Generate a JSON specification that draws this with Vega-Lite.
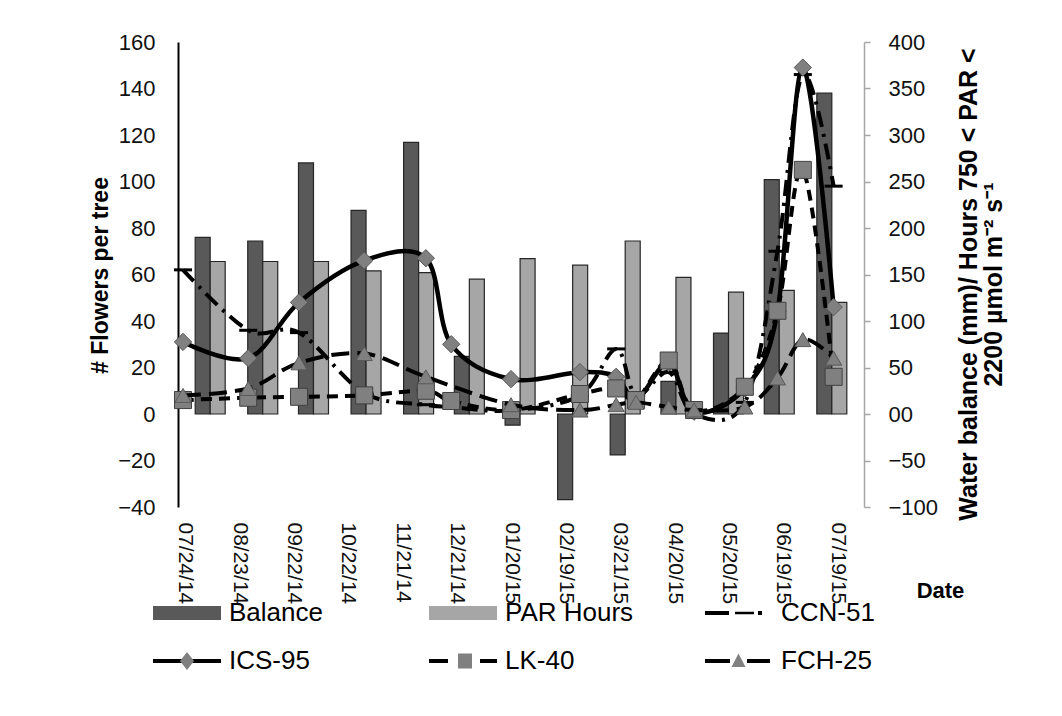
{
  "$schema": "https://vega.github.io/schema/vega-lite/v6.json",
  "width": 686,
  "height": 465,
  "autosize": {"type": "none"},
  "padding": {"left": 178, "top": 42, "right": 198, "bottom": 209},
  "background": "white",
  "config": {
    "font": "Liberation Sans",
    "view": {"stroke": null},
    "axis": {"grid": false, "labelFont": "Liberation Sans", "titleFont": "Liberation Sans"}
  },
  "datasets": {
    "bars": [
      {"date": "2014-08-07", "series": "Balance", "value": 190},
      {"date": "2014-09-05", "series": "Balance", "value": 186},
      {"date": "2014-10-03", "series": "Balance", "value": 270},
      {"date": "2014-11-01", "series": "Balance", "value": 219},
      {"date": "2014-11-30", "series": "Balance", "value": 292},
      {"date": "2014-12-28", "series": "Balance", "value": 62},
      {"date": "2015-01-25", "series": "Balance", "value": -12},
      {"date": "2015-02-23", "series": "Balance", "value": -92},
      {"date": "2015-03-24", "series": "Balance", "value": -44},
      {"date": "2015-04-21", "series": "Balance", "value": 35},
      {"date": "2015-05-20", "series": "Balance", "value": 87},
      {"date": "2015-06-17", "series": "Balance", "value": 252},
      {"date": "2015-07-16", "series": "Balance", "value": 345},
      {"date": "2014-08-07", "series": "PAR Hours", "value": 164},
      {"date": "2014-09-05", "series": "PAR Hours", "value": 164},
      {"date": "2014-10-03", "series": "PAR Hours", "value": 164},
      {"date": "2014-11-01", "series": "PAR Hours", "value": 154},
      {"date": "2014-11-30", "series": "PAR Hours", "value": 152},
      {"date": "2014-12-28", "series": "PAR Hours", "value": 145},
      {"date": "2015-01-25", "series": "PAR Hours", "value": 167},
      {"date": "2015-02-23", "series": "PAR Hours", "value": 160},
      {"date": "2015-03-24", "series": "PAR Hours", "value": 186},
      {"date": "2015-04-21", "series": "PAR Hours", "value": 147},
      {"date": "2015-05-20", "series": "PAR Hours", "value": 131},
      {"date": "2015-06-17", "series": "PAR Hours", "value": 133},
      {"date": "2015-07-16", "series": "PAR Hours", "value": 120}
    ],
    "flowers": [
      {"date": "2014-07-23", "series": "CCN-51", "value": 62},
      {"date": "2014-08-28", "series": "CCN-51", "value": 36},
      {"date": "2014-09-25", "series": "CCN-51", "value": 35},
      {"date": "2014-10-31", "series": "CCN-51", "value": 9},
      {"date": "2014-12-04", "series": "CCN-51", "value": 4},
      {"date": "2014-12-18", "series": "CCN-51", "value": 3},
      {"date": "2015-01-20", "series": "CCN-51", "value": 1.5},
      {"date": "2015-02-27", "series": "CCN-51", "value": 8},
      {"date": "2015-03-19", "series": "CCN-51", "value": 28},
      {"date": "2015-03-30", "series": "CCN-51", "value": 8},
      {"date": "2015-04-17", "series": "CCN-51", "value": 18},
      {"date": "2015-05-01", "series": "CCN-51", "value": 0},
      {"date": "2015-05-29", "series": "CCN-51", "value": 5},
      {"date": "2015-06-16", "series": "CCN-51", "value": 70},
      {"date": "2015-06-30", "series": "CCN-51", "value": 146},
      {"date": "2015-07-17", "series": "CCN-51", "value": 98},
      {"date": "2014-07-23", "series": "ICS-95", "value": 31},
      {"date": "2014-08-28", "series": "ICS-95", "value": 24},
      {"date": "2014-09-25", "series": "ICS-95", "value": 48},
      {"date": "2014-10-31", "series": "ICS-95", "value": 66},
      {"date": "2014-12-04", "series": "ICS-95", "value": 67},
      {"date": "2014-12-18", "series": "ICS-95", "value": 30},
      {"date": "2015-01-20", "series": "ICS-95", "value": 15},
      {"date": "2015-02-27", "series": "ICS-95", "value": 18},
      {"date": "2015-03-19", "series": "ICS-95", "value": 16},
      {"date": "2015-03-30", "series": "ICS-95", "value": 6},
      {"date": "2015-04-17", "series": "ICS-95", "value": 22},
      {"date": "2015-05-01", "series": "ICS-95", "value": 1},
      {"date": "2015-05-29", "series": "ICS-95", "value": 11},
      {"date": "2015-06-16", "series": "ICS-95", "value": 44},
      {"date": "2015-06-30", "series": "ICS-95", "value": 149},
      {"date": "2015-07-17", "series": "ICS-95", "value": 46},
      {"date": "2014-07-23", "series": "LK-40", "value": 6},
      {"date": "2014-08-28", "series": "LK-40", "value": 7},
      {"date": "2014-09-25", "series": "LK-40", "value": 7.4},
      {"date": "2014-10-31", "series": "LK-40", "value": 8},
      {"date": "2014-12-04", "series": "LK-40", "value": 10},
      {"date": "2014-12-18", "series": "LK-40", "value": 5.6},
      {"date": "2015-01-20", "series": "LK-40", "value": 1.7},
      {"date": "2015-02-27", "series": "LK-40", "value": 8.6},
      {"date": "2015-03-19", "series": "LK-40", "value": 11},
      {"date": "2015-03-30", "series": "LK-40", "value": 6},
      {"date": "2015-04-17", "series": "LK-40", "value": 23},
      {"date": "2015-05-01", "series": "LK-40", "value": 1.7},
      {"date": "2015-05-29", "series": "LK-40", "value": 11.7},
      {"date": "2015-06-16", "series": "LK-40", "value": 44.4},
      {"date": "2015-06-30", "series": "LK-40", "value": 105},
      {"date": "2015-07-17", "series": "LK-40", "value": 16},
      {"date": "2014-07-23", "series": "FCH-25", "value": 8},
      {"date": "2014-08-28", "series": "FCH-25", "value": 11},
      {"date": "2014-09-25", "series": "FCH-25", "value": 22},
      {"date": "2014-10-31", "series": "FCH-25", "value": 26},
      {"date": "2014-12-04", "series": "FCH-25", "value": 16},
      {"date": "2015-01-20", "series": "FCH-25", "value": 4},
      {"date": "2015-02-27", "series": "FCH-25", "value": 1.7},
      {"date": "2015-03-19", "series": "FCH-25", "value": 4},
      {"date": "2015-03-30", "series": "FCH-25", "value": 5},
      {"date": "2015-04-17", "series": "FCH-25", "value": 3},
      {"date": "2015-05-01", "series": "FCH-25", "value": 1.7},
      {"date": "2015-05-29", "series": "FCH-25", "value": 3},
      {"date": "2015-06-16", "series": "FCH-25", "value": 15.5},
      {"date": "2015-06-30", "series": "FCH-25", "value": 32},
      {"date": "2015-07-17", "series": "FCH-25", "value": 24}
    ],
    "legendA": [
      {"key": "Balance"}, {"key": "PAR Hours"}, {"key": "CCN-51"},
      {"key": "ICS-95"}, {"key": "LK-40"}, {"key": "FCH-25"}
    ],
    "legendB": [
      {"mkey": "Balance"}, {"mkey": "PAR Hours"}, {"mkey": "CCN-51"},
      {"mkey": "ICS-95"}, {"mkey": "LK-40"}, {"mkey": "FCH-25"}
    ]
  },
  "resolve": {"scale": {"y": "independent", "fill": "independent", "shape": "independent"}},
  "layer": [
    {
      "data": {"name": "bars"},
      "encoding": {
        "x": {
          "field": "date", "type": "temporal",
          "scale": {"type": "utc", "domain": [{"year": 2014, "month": 7, "date": 23, "utc": true}, {"year": 2015, "month": 7, "date": 31, "utc": true}]},
          "axis": {
            "orient": "bottom",
            "values": [
              {"year": 2014, "month": 7, "date": 24, "utc": true},
              {"year": 2014, "month": 8, "date": 23, "utc": true},
              {"year": 2014, "month": 9, "date": 22, "utc": true},
              {"year": 2014, "month": 10, "date": 22, "utc": true},
              {"year": 2014, "month": 11, "date": 21, "utc": true},
              {"year": 2014, "month": 12, "date": 21, "utc": true},
              {"year": 2015, "month": 1, "date": 20, "utc": true},
              {"year": 2015, "month": 2, "date": 19, "utc": true},
              {"year": 2015, "month": 3, "date": 21, "utc": true},
              {"year": 2015, "month": 4, "date": 20, "utc": true},
              {"year": 2015, "month": 5, "date": 20, "utc": true},
              {"year": 2015, "month": 6, "date": 19, "utc": true},
              {"year": 2015, "month": 7, "date": 19, "utc": true}
            ],
            "labelExpr": "utcFormat(datum.value, '%m/%d/%y')",
            "labelAngle": 90, "labelAlign": "left", "labelBaseline": "middle",
            "labelFontSize": 21, "labelColor": "#111", "labelPadding": 15,
            "labelOverlap": false, "labelFlush": false, "labelBound": false,
            "ticks": false, "domain": false,
            "title": "Date", "titleFontSize": 22, "titleFontWeight": "bold", "titleColor": "#000",
            "titleX": 762, "titleY": 83, "titleAlign": "center", "titleBaseline": "middle", "titleAngle": 0
          }
        },
        "y": {
          "field": "value", "type": "quantitative",
          "scale": {"domain": [-100, 400], "nice": false, "zero": false},
          "axis": {
            "orient": "right",
            "values": [-100, -50, 0, 50, 100, 150, 200, 250, 300, 350, 400],
            "labelExpr": "datum.value == 0 ? '00' : datum.label",
            "labelFontSize": 22, "labelColor": "#111", "labelAlign": "left", "labelPadding": 18,
            "domainColor": "#a6a6a6", "domainWidth": 1.5,
            "tickColor": "#a6a6a6", "tickWidth": 1.5, "tickSize": 6,
            "title": ["Water balance (mm)/ Hours 750 < PAR <", "2200 µmol m⁻² s⁻¹"],
            "titleFontSize": 25, "titleFontWeight": "bold", "titleColor": "#000",
            "titleAngle": 270, "titleX": 104, "titleY": 242, "titleAlign": "center", "titleBaseline": "middle", "titleLineHeight": 25
          }
        }
      },
      "layer": [
        {
          "transform": [{"filter": "datum.series === 'Balance'"}],
          "mark": {"type": "bar", "width": 15, "xOffset": -7.5, "fill": "#595959", "stroke": "#262626", "strokeWidth": 1.2}
        },
        {
          "transform": [{"filter": "datum.series === 'PAR Hours'"}],
          "mark": {"type": "bar", "width": 15, "xOffset": 7.5, "fill": "#a6a6a6", "stroke": "#262626", "strokeWidth": 1.2}
        }
      ]
    },
    {
      "data": {"name": "flowers"},
      "encoding": {
        "y": {
          "field": "value", "type": "quantitative",
          "scale": {"domain": [-40, 160], "nice": false, "zero": false},
          "axis": {
            "orient": "left",
            "values": [-40, -20, 0, 20, 40, 60, 80, 100, 120, 140, 160],
            "labelFontSize": 22, "labelColor": "#111", "labelPadding": 23,
            "ticks": false, "tickSize": 0,
            "domainColor": "#000", "domainWidth": 2,
            "title": "# Flowers per tree", "titleFontSize": 23, "titleFontWeight": "bold", "titleColor": "#000",
            "titleAngle": 270, "titleX": -78, "titleY": 233, "titleAlign": "center", "titleBaseline": "middle"
          }
        }
      },
      "layer": [
        {
          "transform": [{"filter": "datum.series === 'CCN-51' && datum.date === '2014-07-23'"}],
          "mark": {"type": "rule", "color": "#000", "strokeWidth": 2},
          "encoding": {"y": {"datum": 0}}
        },
        {
          "transform": [{"filter": "datum.series === 'CCN-51'"}],
          "mark": {"type": "line", "interpolate": "cardinal", "tension": 0, "color": "#000", "strokeWidth": 4, "strokeDash": [16, 7, 3, 7]},
          "encoding": {"x": {"field": "date", "type": "temporal"}}
        },
        {
          "transform": [{"filter": "datum.series === 'CCN-51'"}],
          "mark": {"type": "point", "shape": "stroke", "size": 324, "filled": false, "stroke": "#000", "strokeWidth": 3, "opacity": 1},
          "encoding": {"x": {"field": "date", "type": "temporal"}}
        },
        {
          "transform": [{"filter": "datum.series === 'ICS-95'"}],
          "mark": {"type": "line", "interpolate": "cardinal", "tension": 0, "color": "#000", "strokeWidth": 4.5},
          "encoding": {"x": {"field": "date", "type": "temporal"}}
        },
        {
          "transform": [{"filter": "datum.series === 'ICS-95'"}],
          "mark": {"type": "point", "shape": "diamond", "size": 300, "filled": true, "fill": "#808080", "stroke": "#595959", "strokeWidth": 1, "opacity": 1},
          "encoding": {"x": {"field": "date", "type": "temporal"}}
        },
        {
          "transform": [{"filter": "datum.series === 'LK-40'"}],
          "mark": {"type": "line", "interpolate": "cardinal", "tension": 0, "color": "#000", "strokeWidth": 4, "strokeDash": [11, 7]},
          "encoding": {"x": {"field": "date", "type": "temporal"}}
        },
        {
          "transform": [{"filter": "datum.series === 'LK-40'"}],
          "mark": {"type": "point", "shape": "square", "size": 290, "filled": true, "fill": "#808080", "stroke": "#404040", "strokeWidth": 1, "opacity": 1},
          "encoding": {"x": {"field": "date", "type": "temporal"}}
        },
        {
          "transform": [{"filter": "datum.series === 'FCH-25'"}],
          "mark": {"type": "line", "interpolate": "cardinal", "tension": 0, "color": "#000", "strokeWidth": 4, "strokeDash": [18, 8]},
          "encoding": {"x": {"field": "date", "type": "temporal"}}
        },
        {
          "transform": [{"filter": "datum.series === 'FCH-25'"}],
          "mark": {"type": "point", "shape": "triangle-up", "size": 260, "filled": true, "fill": "#808080", "stroke": "#595959", "strokeWidth": 1, "opacity": 1},
          "encoding": {"x": {"field": "date", "type": "temporal"}}
        }
      ]
    },
    {
      "data": {"name": "legendA"},
      "mark": {"type": "point", "filled": true, "opacity": 0, "stroke": "#000", "strokeWidth": 1},
      "encoding": {
        "fill": {
          "field": "key", "type": "nominal",
          "scale": {"domain": ["Balance", "PAR Hours", "CCN-51", "ICS-95", "LK-40", "FCH-25"], "range": ["#595959", "#a6a6a6", "#000", "#000", "#000", "#000"]},
          "legend": {"orient": "none", "direction": "horizontal", "legendX": -28, "legendY": 558, "columns": 3, "gridAlign": "all", "columnPadding": 68, "rowPadding": 22, "symbolSize": 400, "symbolStrokeWidth": 1, "symbolStrokeColor": "#000", "symbolOpacity": 1, "labelOffset": 53, "labelFontSize": 26, "labelFont": "Liberation Sans", "labelColor": "#000", "labelLimit": 400, "title": null, "padding": 0}
        },
        "shape": {
          "field": "key", "type": "nominal",
          "scale": {
            "domain": ["Balance", "PAR Hours", "CCN-51", "ICS-95", "LK-40", "FCH-25"],
            "range": [
              "M-1,-0.7H5.8V0.7H-1Z",
              "M-1,-0.7H5.8V0.7H-1Z",
              "M-1,-0.2H1.4V0.2H-1Z M2,-0.12H3.9V0.12H2Z M4.3,-0.2H4.7V0.2H4.3Z",
              "M-1,-0.2H5.8V0.2H-1Z",
              "M-1,-0.2H0.9V0.2H-1Z M4.1,-0.2H5.8V0.2H4.1Z",
              "M-1,-0.2H1.5V0.2H-1Z M3.2,-0.2H5.5V0.2H3.2Z"
            ]
          },
          "legend": {"orient": "none", "direction": "horizontal", "legendX": -28, "legendY": 558, "columns": 3, "gridAlign": "all", "columnPadding": 68, "rowPadding": 22, "symbolSize": 400, "symbolStrokeWidth": 1, "symbolStrokeColor": "#000", "symbolOpacity": 1, "labelOffset": 53, "labelFontSize": 26, "labelFont": "Liberation Sans", "labelColor": "#000", "labelLimit": 400, "title": null, "padding": 0}
        }
      }
    },
    {
      "data": {"name": "legendB"},
      "mark": {"type": "point", "filled": true, "opacity": 0, "stroke": "#595959", "strokeWidth": 1},
      "encoding": {
        "fill": {
          "field": "mkey", "type": "nominal", "sort": null,
          "scale": {"range": ["#808080", "#808080", "#808080", "#808080", "#808080", "#808080"]},
          "legend": {"orient": "none", "direction": "horizontal", "legendX": -28, "legendY": 558, "columns": 3, "gridAlign": "all", "columnPadding": 68, "rowPadding": 22, "symbolSize": 400, "symbolStrokeWidth": 1, "symbolStrokeColor": "#595959", "symbolOpacity": 1, "labelOffset": 53, "labelFontSize": 26, "labelFont": "Liberation Sans", "labelColor": "#000", "labelOpacity": 0, "labelLimit": 400, "title": null, "padding": 0}
        },
        "shape": {
          "field": "mkey", "type": "nominal", "sort": null,
          "scale": {
            "range": [
              "M0,0",
              "M0,0",
              "M0,0",
              "M2.4,-0.9L3.1,0L2.4,0.9L1.7,0Z",
              "M1.9,-0.75H3.3V0.75H1.9Z",
              "M2.35,-0.75L3.05,0.6H1.65Z"
            ]
          },
          "legend": {"orient": "none", "direction": "horizontal", "legendX": -28, "legendY": 558, "columns": 3, "gridAlign": "all", "columnPadding": 68, "rowPadding": 22, "symbolSize": 400, "symbolStrokeWidth": 1, "symbolStrokeColor": "#595959", "symbolOpacity": 1, "labelOffset": 53, "labelFontSize": 26, "labelFont": "Liberation Sans", "labelColor": "#000", "labelOpacity": 0, "labelLimit": 400, "title": null, "padding": 0}
        }
      }
    }
  ]
}
